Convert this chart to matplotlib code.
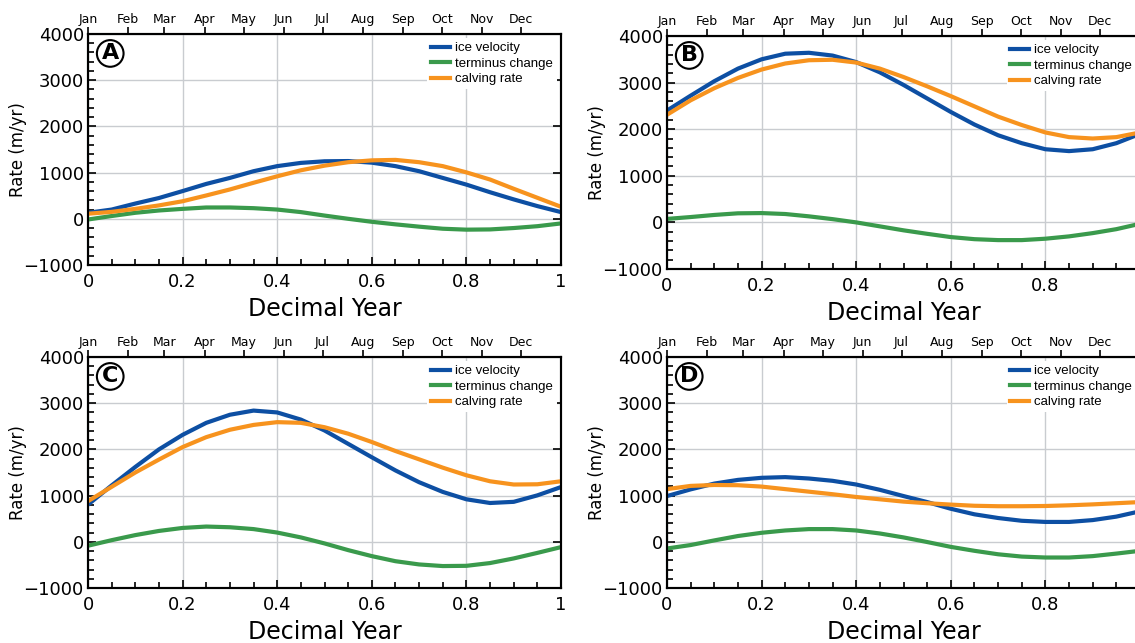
import numpy as np
import matplotlib
matplotlib.use('Agg')
import matplotlib.pyplot as plt
from matplotlib.ticker import MultipleLocator, FuncFormatter

# decimal year sample points (every 0.05)
dec_year = [0.00, 0.05, 0.10, 0.15, 0.20, 0.25, 0.30, 0.35, 0.40, 0.45, 0.50,
            0.55, 0.60, 0.65, 0.70, 0.75, 0.80, 0.85, 0.90, 0.95, 1.00]

# panel A
velocity_a = [130, 200, 330, 450, 600, 755, 885, 1030, 1140, 1210, 1245,
              1250, 1215, 1140, 1030, 885, 740, 575, 420, 275, 145]
terminus_a = [-15, 60, 130, 180, 215, 245, 245, 230, 200, 145, 70,
              0, -65, -120, -170, -215, -235, -230, -200, -160, -100]
calving_a = [110, 150, 215, 290, 380, 505, 635, 780, 920, 1050, 1150,
             1225, 1265, 1275, 1225, 1140, 1005, 850, 650, 455, 260]

# panel B
velocity_b = [2400, 2720, 3030, 3300, 3500, 3620, 3640, 3580, 3440, 3220, 2950,
              2660, 2370, 2100, 1870, 1700, 1570, 1530, 1570, 1700, 1900]
terminus_b = [75, 115, 160, 195, 200, 180, 130, 70, 0, -85, -170,
              -245, -315, -360, -380, -380, -350, -300, -230, -145, -30]
calving_b = [2310, 2620, 2880, 3100, 3280, 3410, 3480, 3490, 3430, 3300, 3120,
             2920, 2710, 2490, 2270, 2090, 1930, 1830, 1800, 1830, 1930]

# panel C
velocity_c = [805, 1220, 1620, 2000, 2315, 2575, 2750, 2840, 2800, 2645, 2410,
              2120, 1830, 1545, 1290, 1080, 920, 840, 865, 1005, 1185]
terminus_c = [-85, 35, 145, 235, 300, 330, 315, 275, 200, 95, -35,
              -180, -310, -420, -490, -525, -520, -460, -360, -240, -115]
calving_c = [880, 1190, 1500, 1780, 2050, 2265, 2425, 2530, 2590, 2575, 2480,
             2340, 2160, 1965, 1785, 1605, 1440, 1310, 1240, 1245, 1310]

# panel D
velocity_d = [990, 1135, 1260, 1340, 1385, 1400, 1370, 1320, 1240, 1125, 990,
              860, 715, 595, 515, 455, 430, 430, 470, 545, 660]
terminus_d = [-145, -70, 30, 125, 195, 245, 275, 275, 245, 180, 95,
              -5, -110, -195, -270, -320, -340, -340, -310, -255, -195]
calving_d = [1140, 1210, 1230, 1225, 1195, 1140, 1085, 1030, 970, 920, 870,
             835, 805, 780, 770, 770, 775, 790, 810, 835, 860]

months = ['Jan', 'Feb', 'Mar', 'Apr', 'May', 'Jun',
          'Jul', 'Aug', 'Sep', 'Oct', 'Nov', 'Dec']
month_start_day = [0, 31, 59, 90, 120, 151, 181, 212, 243, 273, 304, 334]

# B and D run past the right edge of the picture (cropped like the original)
panels = [
    ('A', velocity_a, terminus_a, calving_a, [88/1135, 378/643, 473/1135, 231/643], False),
    ('B', velocity_b, terminus_b, calving_b, [667/1135, 374/643, 473/1135, 233/643], True),
    ('C', velocity_c, terminus_c, calving_c, [88/1135, 55/643, 473/1135, 231/643], False),
    ('D', velocity_d, terminus_d, calving_d, [667/1135, 55/643, 473/1135, 231/643], True),
]

c_blue = '#0d4fa3'
c_green = '#3a9a4c'
c_orange = '#f7931e'

fig = plt.figure(figsize=(11.35, 6.43), dpi=100)


def fmt_x(v, p, cropped):
    if cropped and v > 0.95:
        return ''
    return '%g' % round(v, 2)


for letter, vel, term, calv, pos, cropped in panels:
    ax = fig.add_axes(pos)
    ax.plot(dec_year, vel, color=c_blue, lw=3, label='ice velocity', zorder=3)
    ax.plot(dec_year, term, color=c_green, lw=3, label='terminus change', zorder=3)
    ax.plot(dec_year, calv, color=c_orange, lw=3, label='calving rate', zorder=3)

    ax.set_xlim(0, 1)
    ax.set_ylim(-1000, 4000)
    ax.xaxis.set_major_locator(MultipleLocator(0.2))
    ax.xaxis.set_minor_locator(MultipleLocator(0.05))
    ax.yaxis.set_major_locator(MultipleLocator(1000))
    ax.yaxis.set_minor_locator(MultipleLocator(200))
    ax.xaxis.set_major_formatter(FuncFormatter(lambda v, p, c=cropped: fmt_x(v, p, c)))
    ax.grid(True, which='major', color='#c9ccd0', lw=1, zorder=0)
    ax.set_axisbelow(True)
    ax.tick_params(which='both', direction='in', top=False, right=False,
                   labelsize=13, width=1.2)
    ax.tick_params(axis='x', pad=6)
    ax.tick_params(axis='y', pad=3)
    ax.tick_params(which='major', length=6, right=not cropped)
    ax.tick_params(which='minor', length=4)
    for s in ax.spines.values():
        s.set_linewidth(1.5)

    ax.set_xlabel('Decimal Year', fontsize=17, labelpad=4)
    ax.set_ylabel('Rate (m/yr)', fontsize=12)
    ax.yaxis.set_label_coords(-0.128, 0.5)

    # months along the top
    ax_top = ax.twiny()
    ax_top.set_xlim(0, 1)
    ax_top.set_xticks([d / 365 for d in month_start_day])
    ax_top.set_xticklabels(months, fontsize=9)
    ax_top.tick_params(axis='x', direction='out', length=5, width=1.2, pad=1)
    ax_top.xaxis.set_minor_locator(plt.NullLocator())
    for s in ax_top.spines.values():
        s.set_linewidth(1.5)

    leg = ax.legend(loc='upper right', frameon=True, fancybox=False,
                    prop={'family': 'Liberation Sans', 'size': 9.5},
                    handlelength=1.4, handletextpad=0.4, labelspacing=0.25,
                    borderaxespad=0.3, borderpad=0.3)
    leg.get_frame().set_edgecolor('none')
    leg.get_frame().set_facecolor('white')
    leg.get_frame().set_alpha(1)
    leg.set_zorder(5)

    ax.annotate(letter, xy=(0, 1), xycoords='axes fraction',
                xytext=(16, -14), textcoords='offset points',
                ha='center', va='center', fontsize=16, fontweight='bold',
                bbox=dict(boxstyle='circle,pad=0.15', fc='white', ec='black', lw=1.5),
                zorder=6)

fig.savefig('out.png', dpi=100)
